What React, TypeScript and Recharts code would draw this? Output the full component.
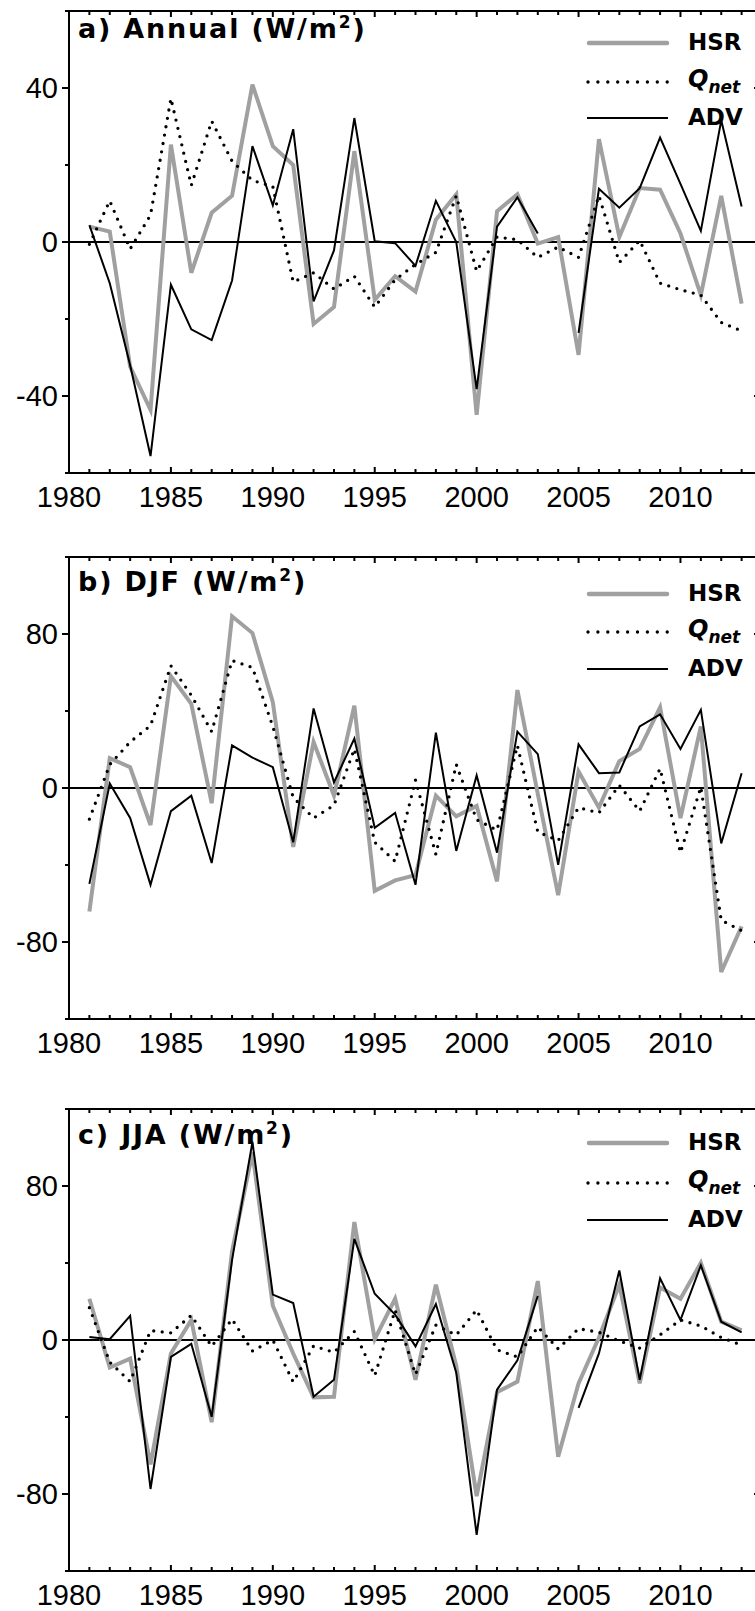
import React from "react";
import {
  LineChart,
  Line,
  XAxis,
  YAxis,
  ReferenceLine,
} from "recharts";

// years 1981-2013
const years = [
  1981, 1982, 1983, 1984, 1985, 1986, 1987, 1988, 1989, 1990, 1991, 1992,
  1993, 1994, 1995, 1996, 1997, 1998, 1999, 2000, 2001, 2002, 2003, 2004,
  2005, 2006, 2007, 2008, 2009, 2010, 2011, 2012, 2013,
];

// a) Annual
const annualHsr = [
  4.0, 2.7, -32.4, -43.6, 25.3, -8.0, 7.6, 12.0, 40.9, 24.9, 20.0, -21.3,
  -16.9, 23.6, -15.0, -8.9, -12.9, 5.8, 12.4, -44.9, 8.0, 12.4, -0.4, 1.3,
  -29.3, 26.7, 1.3, 14.0, 13.6, 2.2, -13.8, 12.0, -16.0,
];
const annualQnet = [
  -0.6, 10.7, -1.8, 7.0, 37.3, 14.7, 31.4, 21.0, 16.0, 14.4, -10.4, -8.0,
  -12.2, -8.9, -16.9, -9.8, -5.8, -2.7, 12.0, -7.6, 1.3, 0.6, -4.0, -1.3,
  -4.0, 12.0, -5.3, 0.4, -10.7, -12.4, -13.8, -20.9, -23.1,
];
const annualAdv = [
  4.4, -10.7, -32.0, -55.6, -11.1, -22.7, -25.5, -10.0, 24.9, 9.5, 29.3,
  -15.4, -2.2, 32.2, 0.2, -0.3, -6.2, 10.7, 0, -38.2, 4.0, 11.6, 2.2, null,
  -23.6, 13.8, 8.9, 14.0, 27.1, 15.1, 2.9, 31.6, 9.2,
];

// b) DJF
const djfHsr = [
  -64.2, 15.5, 10.8, -19.2, 58.1, 43.7, -7.9, 89.2, 80.5, 44.6, -30.6, 23.9,
  -4.0, 42.8, -53.4, -48.0, -45.3, -4.0, -14.7, -9.3, -48.5, 50.9, -3.0,
  -55.7, 8.6, -10.2, 14.0, 20.3, 41.9, -15.6, 32.0, -95.6, -71.9,
];
const djfQnet = [
  -16.2, 12.2, 23.9, 32.4, 63.5, 48.2, 29.3, 66.2, 62.6, 32.0, -4.9, -15.6,
  -9.0, 20.3, -28.2, -38.1, 4.1, -34.5, 12.2, -16.5, -21.9, 22.1, -22.8,
  -27.3, -10.2, -12.9, 1.4, -12.0, 10.1, -33.6, 0.5, -68.7, -74.1,
];
const djfAdv = [
  -49.8, 2.3, -15.6, -50.3, -12.0, -4.0, -39.0, 22.1, 15.8, 10.8, -28.2,
  41.3, 2.9, 25.7, -20.7, -12.9, -50.3, 28.8, -32.7, 6.5, -33.6, 29.3, 17.6,
  -39.9, 22.7, 7.7, 8.1, 32.0, 38.3, 20.3, 40.6, -28.8, 7.7,
];

// c) JJA
const jjaHsr = [
  21.4, -14.3, -9.7, -64.6, -7.0, 10.4, -42.7, 46.1, 97.4, 17.8, -7.0, -29.8,
  -29.5, 61.3, 0.4, 21.4, -20.7, 28.7, -13.4, -81.1, -27.1, -21.6, 30.6,
  -60.6, -22.5, 1.3, 28.7, -22.5, 27.3, 21.4, 40.1, 9.5, 5.0,
];
const jjaQnet = [
  16.8, -11.5, -21.6, 4.9, 3.7, 12.8, -3.3, 10.8, -5.7, 0, -21.8, -3.1, -6.4,
  4.4, -18.5, 15.5, -17.9, 7.7, 2.6, 15.6, -5.1, -8.8, 6.8, -4.6, 5.9, 4.0,
  -0.5, -4.2, 2.7, 10.4, 7.3, 1.3, -2.7,
];
const jjaAdv = [
  1.6, 0.4, 12.6, -77.4, -8.8, -2.0, -39.9, 41.6, 102.9, 23.6, 19.2, -29.5,
  -20.7, 52.5, 24.0, 13.2, -3.3, 18.7, -17.0, -101.2, -25.8, -10.6, 22.9,
  null, -35.3, -7.0, 36.1, -20.7, 32.0, 10.4, 38.8, 9.5, 4.0,
];

const yearTicks = [
  1980, 1981, 1982, 1983, 1984, 1985, 1986, 1987, 1988, 1989, 1990, 1991,
  1992, 1993, 1994, 1995, 1996, 1997, 1998, 1999, 2000, 2001, 2002, 2003,
  2004, 2005, 2006, 2007, 2008, 2009, 2010, 2011, 2012, 2013, 2014,
];
const annualTicks = [-60, -40, -20, 0, 20, 40, 60];
const annualLabels = [-40, 0, 40];
const seasonTicks = [-120, -80, -40, 0, 40, 80, 120];
const seasonLabels = [-80, 0, 80];

const HSR_GRAY = "#a0a0a0";
const AXIS_FONT = "'Liberation Sans', Arial, sans-serif";
const BOLD_FONT = "'DejaVu Sans', Verdana, sans-serif";

const PLOT_H = 462;
const CHART_W = 763;
const LEFT_W = 69;
const PAD = 4; // room above the frame so the top line is not clipped

// bottom axis tick; also draws the matching inward tick on the top edge of the frame
const BottomTick = (props: any) => {
  const { x, y, payload } = props;
  const major = payload.value % 5 === 0;
  const len = major ? 6 : 4;
  const topY = Number(y) - PLOT_H;
  return (
    <g>
      <line x1={x} x2={x} y1={y} y2={Number(y) - len} stroke="#000" strokeWidth={2} />
      <line x1={x} x2={x} y1={topY} y2={topY + len} stroke="#000" strokeWidth={2} />
      {major && payload.value < 2014 && (
        <text x={x} y={Number(y) + 34} textAnchor="middle" fontSize={29} fontFamily={AXIS_FONT} fill="#000">
          {payload.value}
        </text>
      )}
    </g>
  );
};

const makeLeftTick = (labels: number[]) => (props: any) => {
  const { x, y, payload } = props;
  const major = labels.includes(payload.value);
  return (
    <g>
      <line x1={x} x2={x - (major ? 7 : 4)} y1={y} y2={y} stroke="#000" strokeWidth={2} />
      {major && (
        <text x={x - 11} y={y} dy="0.36em" textAnchor="end" fontSize={29} fontFamily={AXIS_FONT} fill="#000">
          {payload.value}
        </text>
      )}
    </g>
  );
};

const RightTick = (props: any) => {
  const { x, y } = props;
  return <line x1={x} x2={x - 8} y1={y} y2={y} stroke="#000" strokeWidth={2} />;
};

const LegendBlock = ({ rows }: { rows: number[] }) => {
  const textStyle: React.CSSProperties = {
    position: "absolute",
    left: 688,
    fontFamily: BOLD_FONT,
    fontWeight: "bold",
    fontSize: 23,
    lineHeight: "23px",
    color: "#000",
    whiteSpace: "nowrap",
  };
  return (
    <>
      <svg style={{ position: "absolute", left: 0, top: 0, overflow: "visible" }} width={1} height={1}>
        <line x1={589} x2={667} y1={rows[0]} y2={rows[0]} stroke={HSR_GRAY} strokeWidth={4.5} strokeLinecap="round" />
        <line x1={588} x2={668} y1={rows[1]} y2={rows[1]} stroke="#000" strokeWidth={3.4} strokeDasharray="0 9.9" strokeLinecap="round" />
        <line x1={587} x2={668} y1={rows[2]} y2={rows[2]} stroke="#000" strokeWidth={2} />
      </svg>
      <div style={{ ...textStyle, top: rows[0] - 12 }}>HSR</div>
      <div style={{ ...textStyle, top: rows[1] - 14, fontStyle: "italic", fontSize: 24 }}>
        Q<span style={{ fontSize: 17, position: "relative", top: 6 }}>net</span>
      </div>
      <div style={{ ...textStyle, top: rows[2] - 12 }}>ADV</div>
    </>
  );
};

interface PanelProps {
  top: number;
  title: string;
  titleTop: number;
  legendRows: number[];
  domain: [number, number];
  ticks: number[];
  labels: number[];
  hsr: (number | null)[];
  qnet: (number | null)[];
  adv: (number | null)[];
}

const Panel = ({ top, title, titleTop, legendRows, domain, ticks, labels, hsr, qnet, adv }: PanelProps) => {
  const data = years.map((year, i) => ({ year, hsr: hsr[i], qnet: qnet[i], adv: adv[i] }));
  const LeftTick = makeLeftTick(labels);
  return (
    <div style={{ position: "absolute", left: 0, top: top, width: 755, height: PLOT_H + 50 }}>
      <div style={{ position: "absolute", left: 0, top: -PAD }}>
        <LineChart
          width={CHART_W}
          height={PLOT_H + 50 + PAD}
          data={data}
          margin={{ top: PAD, right: 0, left: 0, bottom: 0 }}
          style={{ overflow: "visible" }}
        >
          <XAxis
            dataKey="year"
            type="number"
            domain={[1980, 2014]}
            ticks={yearTicks}
            interval={0}
            height={50}
            tickSize={0}
            tickMargin={0}
            tickLine={false}
            axisLine={{ stroke: "#000", strokeWidth: 2 }}
            tick={BottomTick}
          />
          <YAxis
            type="number"
            domain={domain}
            ticks={ticks}
            interval={0}
            width={LEFT_W}
            tickSize={0}
            tickMargin={0}
            tickLine={false}
            axisLine={{ stroke: "#000", strokeWidth: 2 }}
            tick={LeftTick}
            allowDataOverflow
          />
          <YAxis
            yAxisId="right"
            orientation="right"
            type="number"
            domain={domain}
            ticks={labels}
            interval={0}
            width={1}
            tickSize={0}
            tickMargin={0}
            tickLine={false}
            axisLine={{ stroke: "#000", strokeWidth: 2 }}
            tick={RightTick}
            allowDataOverflow
          />
          {/* frame top edge */}
          <ReferenceLine y={domain[1]} stroke="#000" strokeWidth={2} ifOverflow="visible" />
          <ReferenceLine y={0} stroke="#000" strokeWidth={2} />
          <Line
            dataKey="hsr"
            type="linear"
            stroke={HSR_GRAY}
            strokeWidth={4}
            dot={false}
            isAnimationActive={false}
          />
          <Line
            dataKey="qnet"
            type="linear"
            stroke="#000"
            strokeWidth={3.3}
            strokeDasharray="0 8.5"
            strokeLinecap="round"
            dot={false}
            isAnimationActive={false}
          />
          <Line
            yAxisId="right"
            dataKey="adv"
            type="linear"
            stroke="#000"
            strokeWidth={2}
            dot={false}
            isAnimationActive={false}
          />
        </LineChart>
      </div>
      {/* top border of the frame */}
      <div
        style={{
          position: "absolute",
          left: LEFT_W - 1,
          top: -1,
          width: CHART_W - LEFT_W + 1,
          height: 2,
          background: "#000",
          zIndex: 2,
        }}
      />
      <div
        style={{
          position: "absolute",
          left: 78,
          top: titleTop,
          fontFamily: BOLD_FONT,
          fontWeight: "bold",
          fontSize: 27,
          lineHeight: "27px",
          letterSpacing: 1.8,
          whiteSpace: "nowrap",
          color: "#000",
        }}
      >
        {title} (W/m<sup style={{ fontSize: 17, lineHeight: 0 }}>2</sup>)
      </div>
      <LegendBlock rows={legendRows} />
    </div>
  );
};

export default function App() {
  return (
    <div
      style={{
        position: "absolute",
        left: 0,
        top: 0,
        width: 755,
        height: 1611,
        overflow: "hidden",
        background: "#fff",
      }}
    >
      <Panel
        top={11}
        title="a) Annual"
        titleTop={4}
        legendRows={[32, 71, 107]}
        domain={[-60, 60]}
        ticks={annualTicks}
        labels={annualLabels}
        hsr={annualHsr}
        qnet={annualQnet}
        adv={annualAdv}
      />
      <Panel
        top={557}
        title="b) DJF"
        titleTop={11}
        legendRows={[37, 75, 112]}
        domain={[-120, 120]}
        ticks={seasonTicks}
        labels={seasonLabels}
        hsr={djfHsr}
        qnet={djfQnet}
        adv={djfAdv}
      />
      <Panel
        top={1109}
        title="c) JJA"
        titleTop={12}
        legendRows={[34, 74, 111]}
        domain={[-120, 120]}
        ticks={seasonTicks}
        labels={seasonLabels}
        hsr={jjaHsr}
        qnet={jjaQnet}
        adv={jjaAdv}
      />
    </div>
  );
}
